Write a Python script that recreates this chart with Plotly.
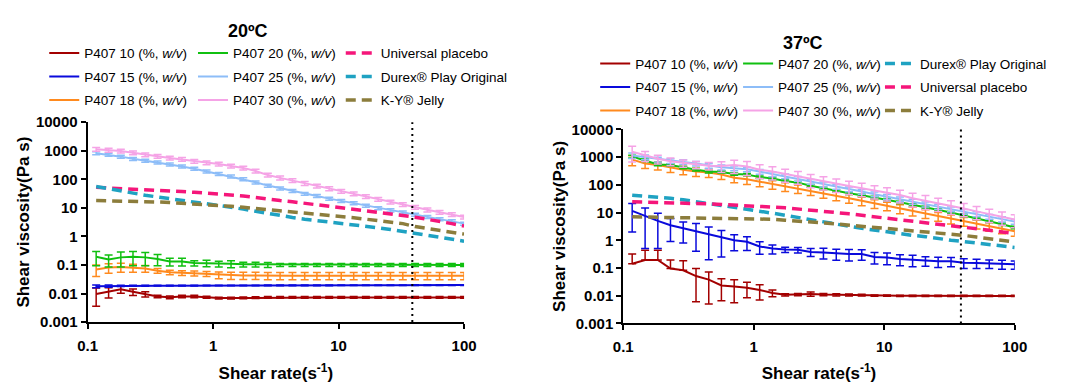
import plotly.graph_objects as go

W, H = 1074, 383

# ---------------- data ----------------
shear_rate = [0.117, 0.147, 0.184, 0.230, 0.288, 0.361, 0.452, 0.565, 0.708, 0.887,
              1.11, 1.39, 1.74, 2.18, 2.73, 3.42, 4.29, 5.37, 6.72, 8.42,
              10.5, 13.2, 16.5, 20.7, 25.9, 32.5, 40.7, 51.0, 63.8, 79.9, 100]

series_names = ["P407 10 (%, <i>w/v</i>)", "P407 15 (%, <i>w/v</i>)", "P407 18 (%, <i>w/v</i>)",
                "P407 20 (%, <i>w/v</i>)", "P407 25 (%, <i>w/v</i>)", "P407 30 (%, <i>w/v</i>)",
                "Universal placebo", "Durex® Play Original", "K-Y® Jelly"]

# ---- 20 ºC ----
t20_p10 = [0.0096, 0.0115, 0.0141, 0.0115, 0.0096, 0.0079, 0.0074, 0.0079, 0.0079, 0.0074,
           0.0069, 0.0069, 0.0070, 0.0072, 0.0073, 0.0073, 0.0073, 0.0073, 0.0073, 0.0073,
           0.0073, 0.0073, 0.0073, 0.0073, 0.0073, 0.0073, 0.0073, 0.0073, 0.0073, 0.0073, 0.0073]
t20_p10_sd = [0.0060, 0.0045, 0.0040, 0.0030, 0.0020, 0.0008, 0.0008, 0.0008, 0.0008, 0.0006,
              0.0005, 0.0005, 0.0005, 0.0005, 0.0005, 0.0005, 0.0005, 0.0005, 0.0005, 0.0005,
              0.0005, 0.0005, 0.0005, 0.0005, 0.0005, 0.0005, 0.0005, 0.0005, 0.0005, 0.0005, 0.0005]
t20_p15 = [0.0178, 0.0182, 0.0185, 0.0186, 0.0187, 0.0188, 0.0188, 0.0189, 0.0189, 0.0190,
           0.0190, 0.0190, 0.0191, 0.0191, 0.0192, 0.0192, 0.0192, 0.0193, 0.0193, 0.0193,
           0.0194, 0.0194, 0.0194, 0.0195, 0.0195, 0.0195, 0.0196, 0.0196, 0.0196, 0.0197, 0.0197]
t20_p15_sd = [0.0020, 0.0015, 0.0010, 0.0008, 0.0006, 0.0005, 0.0005, 0.0005, 0.0005, 0.0005,
              0.0005, 0.0005, 0.0005, 0.0005, 0.0005, 0.0005, 0.0005, 0.0005, 0.0005, 0.0005,
              0.0005, 0.0005, 0.0005, 0.0005, 0.0005, 0.0005, 0.0005, 0.0005, 0.0005, 0.0005, 0.0005]
t20_p18 = [0.069, 0.081, 0.085, 0.081, 0.075, 0.063, 0.055, 0.053, 0.051, 0.049,
           0.045, 0.043, 0.043, 0.043, 0.042, 0.042, 0.042, 0.042, 0.042, 0.042,
           0.042, 0.042, 0.042, 0.042, 0.042, 0.042, 0.042, 0.042, 0.042, 0.042, 0.042]
t20_p18_sd = [0.030, 0.030, 0.030, 0.025, 0.020, 0.012, 0.010, 0.010, 0.010, 0.010,
              0.012, 0.012, 0.012, 0.012, 0.012, 0.012, 0.012, 0.012, 0.012, 0.012,
              0.012, 0.012, 0.012, 0.012, 0.012, 0.012, 0.012, 0.012, 0.012, 0.012, 0.012]
t20_p20 = [0.194, 0.154, 0.184, 0.194, 0.184, 0.162, 0.132, 0.132, 0.116, 0.116,
           0.110, 0.110, 0.105, 0.105, 0.102, 0.101, 0.101, 0.100, 0.100, 0.100,
           0.100, 0.100, 0.100, 0.100, 0.100, 0.100, 0.100, 0.100, 0.100, 0.100, 0.100]
t20_p20_sd = [0.100, 0.070, 0.100, 0.100, 0.090, 0.068, 0.040, 0.040, 0.025, 0.030,
              0.025, 0.030, 0.020, 0.020, 0.020, 0.012, 0.012, 0.012, 0.012, 0.012,
              0.012, 0.012, 0.012, 0.012, 0.012, 0.012, 0.012, 0.012, 0.012, 0.012, 0.012]
t20_p25 = [815, 720, 620, 520, 450, 390, 330, 280, 235, 190,
           155, 125, 100, 78, 60, 48, 39, 31, 26, 21,
           17.5, 14.5, 11.8, 9.8, 8.2, 6.9, 5.8, 4.8, 4.0, 3.4, 2.8]
t20_p25_sd = [100, 86, 74, 62, 54, 47, 40, 34, 28, 23,
              19, 15, 12, 9.4, 7.2, 5.8, 4.7, 3.7, 3.1, 2.5,
              2.1, 1.7, 1.4, 1.2, 1.0, 0.83, 0.7, 0.58, 0.48, 0.41, 0.34]
t20_p30 = [1130, 1050, 980, 850, 720, 640, 560, 500, 430, 380,
           340, 290, 250, 195, 140, 112, 90, 72, 58, 47,
           38, 31, 25, 20, 16, 13, 10.5, 8.5, 7.0, 5.8, 4.8]
t20_p30_sd = [170, 160, 150, 130, 110, 96, 84, 75, 65, 57,
              51, 44, 37, 29, 21, 17, 13.5, 11, 8.7, 7.2,
              5.9, 4.7, 3.8, 3.0, 2.4, 1.95, 1.6, 1.3, 1.05, 0.87, 0.72]
t20_placebo = [52, 50, 47, 45, 43, 41, 39, 37, 35, 33,
               31, 28.5, 26, 23, 20, 18, 16.3, 14.5, 12.8, 11.3,
               10, 8.9, 7.8, 7.0, 6.2, 5.4, 4.7, 4.0, 3.4, 2.8, 2.3]
t20_durex = [56, 46, 38, 32, 27.5, 24, 21, 18.5, 16.5, 14.5,
             12.5, 10.5, 9.0, 7.5, 6.2, 5.3, 4.6, 4.0, 3.6, 3.2,
             2.8, 2.6, 2.3, 2.0, 1.75, 1.5, 1.25, 1.05, 0.9, 0.78, 0.68]
t20_ky = [18, 17.8, 17.5, 17, 16.5, 16, 15.3, 14.6, 13.8, 13,
          12.2, 11.3, 10.4, 9.5, 8.7, 8.0, 7.4, 6.8, 6.2, 5.6,
          5.0, 4.5, 4.0, 3.6, 3.2, 2.8, 2.2, 1.9, 1.65, 1.4, 1.2]

# ---- 37 ºC ----
t37_p10 = [0.142, 0.195, 0.195, 0.095, 0.083, 0.051, 0.038, 0.0235, 0.0216, 0.0195,
           0.016, 0.0126, 0.0108, 0.011, 0.0115, 0.011, 0.0107, 0.0106, 0.0105, 0.0100,
           0.0100, 0.0099, 0.0099, 0.0098, 0.0098, 0.0098, 0.0098, 0.0098, 0.0098, 0.0098, 0.0098]
t37_p10_sd = [0.18, 0.24, 0.24, 0.10, 0.10, 0.045, 0.033, 0.017, 0.016, 0.011,
              0.009, 0.0035, 0.001, 0.001, 0.002, 0.001, 0.001, 0.0008, 0.0008, 0.0005,
              0.0005, 0.0005, 0.0005, 0.0005, 0.0005, 0.0005, 0.0005, 0.0005, 0.0005, 0.0005, 0.0005]
t37_p15 = [11.5, 7.5, 5.0, 3.5, 2.7, 2.2, 1.6, 1.25, 1.0, 0.88,
           0.60, 0.50, 0.46, 0.45, 0.38, 0.36, 0.33, 0.32, 0.32, 0.25,
           0.24, 0.21, 0.20, 0.185, 0.175, 0.175, 0.155, 0.15, 0.145, 0.14, 0.135]
t37_p15_sd = [9.5, 7.0, 4.5, 2.6, 1.9, 1.8, 1.4, 1.0, 0.58, 0.45,
              0.29, 0.18, 0.10, 0.10, 0.12, 0.15, 0.14, 0.14, 0.13, 0.11,
              0.11, 0.09, 0.09, 0.07, 0.07, 0.065, 0.06, 0.055, 0.05, 0.05, 0.045]
t37_p18 = [810, 590, 515, 420, 350, 300, 280, 235, 180, 158,
           130, 105, 88, 74, 62, 50, 40.5, 33, 26.5, 21.5,
           17.5, 14, 11.5, 9.3, 7.5, 6.0, 4.9, 3.9, 3.2, 2.6, 2.1]
t37_p18_sd = [320, 200, 170, 140, 120, 100, 95, 80, 62, 55,
              45, 36, 30, 25, 21, 17, 14, 11.5, 9.0, 7.5,
              6.0, 5.0, 4.0, 3.2, 2.6, 2.1, 1.7, 1.35, 1.1, 0.9, 0.7]
t37_p20 = [1050, 770, 540, 515, 420, 350, 300, 290, 245, 235,
           190, 170, 138, 120, 93, 75, 61, 50, 42, 35,
           29, 23.5, 19, 15.5, 12.5, 10, 7.8, 6.2, 4.9, 3.8, 2.9]
t37_p20_sd = [120, 80, 55, 50, 42, 35, 30, 30, 25, 23,
              19, 17, 14, 12, 9, 7.5, 6, 5, 4.2, 3.5,
              2.9, 2.3, 1.9, 1.5, 1.2, 1.0, 0.8, 0.6, 0.5, 0.4, 0.3]
t37_p25 = [1150, 1000, 830, 725, 670, 590, 490, 430, 400, 365,
           300, 245, 205, 167, 130, 105, 86, 70, 57, 46,
           37.5, 30.5, 25, 20, 16.5, 13.3, 10.8, 8.8, 7.1, 5.8, 4.7]
t37_p25_sd = [250, 200, 160, 140, 130, 110, 95, 85, 80, 70,
              60, 50, 40, 33, 26, 21, 17, 14, 11, 9,
              7.5, 6, 5, 4, 3.3, 2.7, 2.2, 1.8, 1.4, 1.2, 0.9]
t37_p30 = [1570, 1150, 870, 710, 615, 540, 490, 480, 515, 455,
           350, 300, 245, 205, 158, 130, 108, 90, 75, 62,
           52, 43, 33, 27, 22, 17.5, 14, 11, 8.8, 7.0, 5.6]
t37_p30_sd = [900, 450, 300, 220, 180, 160, 150, 200, 260, 240,
              180, 150, 120, 100, 80, 65, 55, 45, 38, 31,
              26, 21, 17, 14, 11, 9, 7, 5.5, 4.4, 3.5, 2.8]
t37_placebo = [24.5, 24, 23.5, 23, 22.5, 21.5, 20.5, 19.5, 18.8, 18,
               17.3, 15.8, 14.8, 13.6, 12.3, 11, 10, 9, 8, 7,
               6.2, 5.5, 4.9, 4.4, 3.8, 3.4, 3.0, 2.6, 2.3, 2.0, 1.75]
t37_durex = [42, 39, 35.5, 32.5, 29, 24, 21, 18, 15.5, 13.5,
             11.5, 9.5, 8.0, 6.6, 5.4, 4.5, 3.8, 3.2, 2.7, 2.3,
             2.0, 1.75, 1.5, 1.35, 1.15, 1.0, 0.9, 0.8, 0.7, 0.62, 0.55]
t37_ky = [7.0, 6.9, 6.9, 6.8, 6.7, 6.6, 6.5, 6.4, 6.2, 6.0,
          5.9, 5.7, 5.3, 5.0, 4.6, 4.2, 3.85, 3.5, 3.2, 3.0,
          2.75, 2.5, 2.3, 2.1, 1.9, 1.7, 1.5, 1.3, 1.15, 1.0, 0.87]

x_tickvals = [0.1, 1, 10, 100]
x_ticktext = ["0.1", "1", "10", "100"]
y_tickvals = [0.001, 0.01, 0.1, 1, 10, 100, 1000, 10000]
y_ticktext = ["0.001", "0.01", "0.1", "1", "10", "100", "1000", "10000"]
marker_rate = 38.7   # dotted reference line (s^-1)

panel_titles = ["20ºC", "37ºC"]
x_title = "Shear rate(s<sup>-1</sup>)"
y_title = "Shear viscosity(Pa s)"

# ---------------- styles ----------------
colors = ["#A30000", "#0A0ADC", "#FF8A1E", "#10C010", "#8DBDF8", "#F5A3E6",
          "#F5167A", "#1FA2C2", "#8C7D3C"]
FONT = "Arial, 'Liberation Sans', sans-serif"

fig = go.Figure()

def add_p407(y, sd, idx, xa, ya, legend, group):
    minus = [s if s < v else 0 for s, v in zip(sd, y)]
    fig.add_trace(go.Scatter(
        x=shear_rate, y=y, mode="lines", name=series_names[idx],
        line=dict(color=colors[idx], width=2),
        error_y=dict(type="data", array=sd, arrayminus=minus, color=colors[idx],
                     thickness=1.5, width=4),
        xaxis=xa, yaxis=ya, legend=legend, legendgroup=group))

def add_product(y, idx, xa, ya, legend, group):
    fig.add_trace(go.Scatter(
        x=shear_rate, y=y, mode="lines", name=series_names[idx],
        line=dict(color=colors[idx], width=3.5, dash="10px,6px"),
        xaxis=xa, yaxis=ya, legend=legend, legendgroup=group))

# 20 ºC panel
p20 = [(t20_p10, t20_p10_sd), (t20_p15, t20_p15_sd), (t20_p18, t20_p18_sd),
       (t20_p20, t20_p20_sd), (t20_p25, t20_p25_sd), (t20_p30, t20_p30_sd)]
for i, (y, sd) in enumerate(p20):
    add_p407(y, sd, i, "x", "y", "legend" if i < 3 else "legend2", f"a{i}")
add_product(t20_placebo, 6, "x", "y", "legend3", "a6")
add_product(t20_durex, 7, "x", "y", "legend3", "a7")
add_product(t20_ky, 8, "x", "y", "legend3", "a8")

# 37 ºC panel
p37 = [(t37_p10, t37_p10_sd), (t37_p15, t37_p15_sd), (t37_p18, t37_p18_sd),
       (t37_p20, t37_p20_sd), (t37_p25, t37_p25_sd), (t37_p30, t37_p30_sd)]
for i, (y, sd) in enumerate(p37):
    add_p407(y, sd, i, "x2", "y2", "legend4" if i < 3 else "legend5", f"b{i}")
add_product(t37_durex, 7, "x2", "y2", "legend6", "b7")
add_product(t37_placebo, 6, "x2", "y2", "legend6", "b6")
add_product(t37_ky, 8, "x2", "y2", "legend6", "b8")

def px_x(p):
    return p / W

def px_y(p):
    return 1 - p / H

axis_common = dict(type="log", showline=True, linecolor="black", linewidth=2,
                   ticks="outside", ticklen=5, tickwidth=2, tickcolor="black",
                   showgrid=False, zeroline=False,
                   tickfont=dict(family=FONT, size=15, color="black", weight="bold"))

xaxis = dict(axis_common, range=[-1, 2], tickvals=x_tickvals, ticktext=x_ticktext,
             ticklabelstandoff=4,
             title=dict(text=x_title, font=dict(family=FONT, size=17, color="black", weight="bold"),
                        standoff=14))
yaxis = dict(axis_common, range=[-3, 4], tickvals=y_tickvals, ticktext=y_ticktext,
             title=dict(text=y_title, font=dict(family=FONT, size=17, color="black", weight="bold"),
                        standoff=2))

legend_common = dict(xanchor="left", yanchor="top", bgcolor="rgba(0,0,0,0)",
                     font=dict(family=FONT, size=13.5, color="black"),
                     traceorder="grouped", tracegroupgap=3, borderwidth=0)

fig.update_layout(
    width=W, height=H, autosize=False,
    margin=dict(l=0, r=0, t=0, b=0),
    paper_bgcolor="white", plot_bgcolor="white",
    xaxis=dict(xaxis, domain=[px_x(79.3), px_x(464)], anchor="y"),
    yaxis=dict(yaxis, domain=[px_y(327.6), px_y(118.4)], anchor="x"),
    xaxis2=dict(xaxis, domain=[px_x(626.7), px_x(1026.7)], anchor="y2"),
    yaxis2=dict(yaxis, domain=[px_y(329), px_y(126)], anchor="x2"),
    legend=dict(legend_common, x=px_x(35), y=px_y(30)),
    legend2=dict(legend_common, x=px_x(187), y=px_y(30)),
    legend3=dict(legend_common, x=px_x(338), y=px_y(30)),
    legend4=dict(legend_common, x=px_x(598), y=px_y(41)),
    legend5=dict(legend_common, x=px_x(744), y=px_y(41)),
    legend6=dict(legend_common, x=px_x(889), y=px_y(41)),
    shapes=[
        dict(type="line", xref="x", yref="y domain", x0=marker_rate, x1=marker_rate, y0=0, y1=1,
             line=dict(color="black", width=2, dash="2px,4px")),
        dict(type="line", xref="x2", yref="y2 domain", x0=marker_rate, x1=marker_rate, y0=0, y1=1,
             line=dict(color="black", width=2, dash="2px,4px")),
    ],
    annotations=[
        dict(text=panel_titles[0], x=px_x(243), y=px_y(23), xref="paper", yref="paper",
             xanchor="center", yanchor="middle", showarrow=False,
             font=dict(family=FONT, size=18, color="black", weight="bold")),
        dict(text=panel_titles[1], x=px_x(810), y=px_y(36), xref="paper", yref="paper",
             xanchor="center", yanchor="middle", showarrow=False,
             font=dict(family=FONT, size=18, color="black", weight="bold")),
    ],
)

fig.write_html("out.html")
